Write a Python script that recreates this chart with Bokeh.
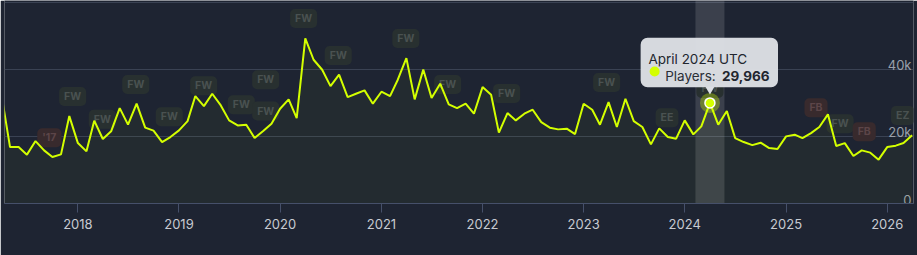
import pandas as pd
from bokeh.plotting import figure
from bokeh.models import ColumnDataSource, Range1d, DatetimeTickFormatter, FixedTicker, BoxAnnotation
from bokeh.core.properties import value
from bokeh.embed import file_html
from bokeh.resources import INLINE

# ---------------- data ----------------
first_month = "2017-04-01"
players = [
    31900, 16800, 16800, 14550, 18600, 15830, 13840, 14640, 26040,           # Apr-Dec 2017
    18000, 15530, 24670, 19200, 21490, 28420, 23480, 29730, 22590, 21700, 18300, 19790,  # 2018
    21780, 24550, 32000, 29020, 32700, 29220, 24760, 23270, 23480, 19490, 21580, 23780,  # 2019
    28240, 31010, 25450, 49200, 42820, 39840, 34970, 38360, 31700, 32700, 33690, 29730,  # 2020
    33300, 32000, 36870, 43300, 31010, 39940, 31400, 35680, 29520, 28400, 29730, 26750,  # 2021
    34670, 32410, 21100, 26940, 24760, 26750, 27940, 24250, 22590, 22080, 22290, 20690,  # 2022
    29730, 27940, 23480, 30200, 22790, 31200, 24550, 22790, 17620, 22380, 19790, 19310,  # 2023
    24760, 20590, 22970, 29966, 23480, 27530, 19490, 18300, 17400, 18120, 16520, 16220,  # 2024
    20000, 20500, 19490, 20980, 22790, 26550, 17110, 18000, 14140, 15830, 15150, 13060,  # 2025
    16810, 17230, 18000, 20300,                                               # Jan-Apr 2026
]
year_ticks = [2018, 2019, 2020, 2021, 2022, 2023, 2024, 2025, 2026]
y_tick_values = [0, 20000, 40000, 60000]
y_tick_labels = ["0", "20k", "40k", ""]

badge_labels = ["'17", "FW", "FW", "FW", "FW", "FW", "FW", "FW", "FW", "FW", "FW",
                "FW", "FW", "FW", "FW", "EE", "FW", "FB", "FW", "FB", "EZ"]
badge_dates = ["2017-09-20", "2017-12-13", "2018-03-30", "2018-07-29", "2018-11-27",
               "2019-03-31", "2019-08-14", "2019-11-10", "2019-11-10", "2020-03-26",
               "2020-07-29", "2021-03-30", "2021-08-28", "2022-03-29", "2023-03-25",
               "2023-10-29", "2024-04-01", "2025-04-19", "2025-07-15", "2025-10-10",
               "2026-02-26"]
badge_levels = [19610, 31900, 25060, 35470, 25860, 35090, 29430, 36870, 27530, 55110,
                44100, 49160, 35470, 32800, 36070, 25560, 34280, 28540, 23780, 21400, 26250]
badge_kind = ["red", "grey", "grey", "grey", "grey", "grey", "grey", "grey", "grey", "grey",
              "grey", "grey", "grey", "grey", "grey", "grey", "grey", "red", "grey", "red", "grey"]

hover_month = "2024-04-01"
hover_title = "April 2024 UTC"
hover_series = "Players: "
hover_value_text = "29,966"

# ---------------- styling / layout ----------------
BG = "#1e2432"
LINE = "#d4ff00"
FONT = value("Inter")
W, H = 917, 255
BL, BR, BT, BB = 4, 4, 0, 52
FRAME_W, FRAME_H = W - BL - BR, H - BT - BB

x_start = pd.Timestamp("2017-04-11")
x_end = pd.Timestamp("2026-04-06")
y_end = 60470
PX_PER_DAY = FRAME_W / ((x_end - x_start).total_seconds() / 86400)
VAL_PER_PX = y_end / FRAME_H

def ms(ts):
    return pd.Timestamp(ts).value / 1e6

def shift_days(ts, px):
    return pd.Timestamp(ts) + pd.Timedelta(days=px / PX_PER_DAY)

months = pd.date_range(first_month, periods=len(players), freq="MS")
src = ColumnDataSource(dict(x=months, y=players, zero=[0] * len(players)))

p = figure(width=W, height=H, output_backend="svg", toolbar_location=None,
           x_axis_type="datetime",
           x_range=Range1d(ms(x_start), ms(x_end)), y_range=Range1d(0, y_end),
           min_border_left=BL, min_border_right=BR, min_border_top=BT, min_border_bottom=BB)
p.background_fill_color = BG
p.border_fill_color = BG
p.outline_line_color = None
p.xgrid.visible = False
p.yaxis.visible = False
p.yaxis.ticker = FixedTicker(ticks=y_tick_values)
p.ygrid.ticker = FixedTicker(ticks=y_tick_values)
p.ygrid.grid_line_color = "#3a4253"
p.ygrid.grid_line_width = 1

ax = p.xaxis[0]
ax.ticker = FixedTicker(ticks=[ms(f"{yr}-01-01") for yr in year_ticks])
ax.formatter = DatetimeTickFormatter(years="%Y", months="%Y", days="%Y", hours="%Y")
ax.axis_line_color = "#46506a"
ax.major_tick_line_color = "#46506a"
ax.major_tick_out = 9
ax.major_tick_in = 0
ax.minor_tick_line_color = None
ax.major_label_text_color = "#c7cad1"
ax.major_label_text_font = "Inter"
ax.major_label_text_font_size = "13px"
ax.major_label_standoff = 6

# highlight band around hovered month
band = BoxAnnotation(left=ms(shift_days(hover_month, -14.5)), right=ms(shift_days(hover_month, 14.5)),
                     fill_color="#ffffff", fill_alpha=0.13, line_color=None, level="underlay")
p.add_layout(band)

# y tick labels inside the plot, right aligned
p.text(x=[ms(x_end)] * len(y_tick_values), y=y_tick_values, text=y_tick_labels,
       text_align="right", text_baseline="alphabetic", x_offset=-2, y_offset=-4,
       text_font=FONT, text_font_size="13px", text_color="#9aa0ab")

# event badges
bsrc = ColumnDataSource(dict(
    x=pd.to_datetime(badge_dates), y=badge_levels, t=badge_labels,
    bg=["#382a2d" if k == "red" else "#283030" for k in badge_kind],
    fg=["#5c4548" if k == "red" else "#4a5251" for k in badge_kind],
))
p.text(x="x", y="y", text="t", source=bsrc, text_align="center", text_baseline="middle",
       text_font=FONT, text_font_size="10.5px", text_font_style="bold", text_color="fg",
       background_fill_color="bg", background_fill_alpha=1.0, border_radius=5, padding=(5, 3))

# area + line
p.varea(x="x", y1="zero", y2="y", source=src, fill_color=LINE, fill_alpha=0.035)
p.line(x="x", y="y", source=src, line_color=LINE, line_width=2)

# hovered point
hv = players[list(months).index(pd.Timestamp(hover_month))]
hx = pd.Timestamp(hover_month)
p.scatter(x=[hx], y=[hv], size=20, fill_color=LINE, fill_alpha=0.33, line_color=None)
p.scatter(x=[hx], y=[hv], size=10, fill_color=LINE, line_color="#ffffff", line_width=1.5)

# tooltip
tip = BoxAnnotation(left=ms(shift_days(hx, -69.3)), right=ms(shift_days(hx, 68.1)),
                    bottom=hv + 15.7 * VAL_PER_PX, top=hv + 65.1 * VAL_PER_PX,
                    fill_color="#dcdfe4", fill_alpha=0.97, line_color=None,
                    border_radius=7, level="annotation")
p.add_layout(tip)
p.scatter(x=[hx], y=[hv + 13.6 * VAL_PER_PX], marker="inverted_triangle", size=9,
          fill_color="#dcdfe4", line_color=None, level="overlay")
p.text(x=[hx], y=[hv], text=[hover_title], x_offset=-61.5, y_offset=-43.5,
       text_baseline="alphabetic", text_font=FONT, text_font_size="13.5px",
       text_color="#22262e", level="overlay")
p.scatter(x=[shift_days(hx, -55.3)], y=[hv + 31.4 * VAL_PER_PX], size=10,
          fill_color=LINE, line_color=None, level="overlay")
p.text(x=[hx], y=[hv], text=[hover_series], x_offset=-44.8, y_offset=-27,
       text_baseline="alphabetic", text_font=FONT, text_font_size="13.5px",
       text_color="#2a2e36", level="overlay")
p.text(x=[hx], y=[hv], text=[hover_value_text], x_offset=12, y_offset=-27,
       text_baseline="alphabetic", text_font=FONT, text_font_size="13.5px",
       text_font_style="bold", text_color="#22262e", level="overlay")

open("out.html", "w").write(file_html(p, INLINE))
